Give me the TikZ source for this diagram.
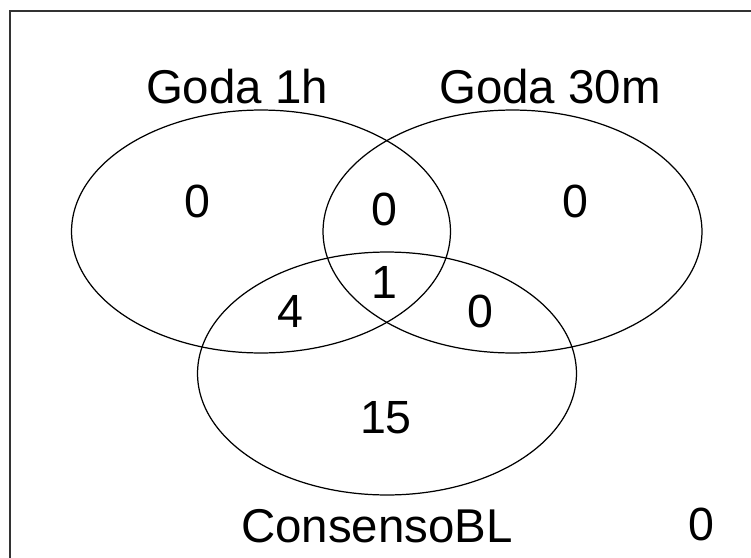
\documentclass[tikz,border=0pt]{standalone}
\usepackage{fontspec}
\setmainfont{Liberation Sans}
\usetikzlibrary{shapes.geometric}

\begin{document}
\begin{tikzpicture}[
    x=0.02cm, y=-0.02cm,
    set/.style={ellipse, draw=black, line width=0.7pt, inner sep=0pt, minimum width=7.58cm, minimum height=4.86cm},
    count/.style={anchor=base, inner sep=0pt, font=\fontsize{26.5}{30}\selectfont},
    setlabel/.style={anchor=base, inner sep=0pt, font=\fontsize{27}{30}\selectfont},
    frame/.style={draw=black!80, line width=1.1pt}
]

% Canvas and plot frame (runs off the right and bottom)
\useasboundingbox (0,0) rectangle (751,558);
\clip (0,0) rectangle (751,558);
\fill[white] (0,0) rectangle (751,558);
\draw[frame] (10,11) rectangle (800,620);

% Sets
\node[set] (goda1h) at (261,231.5) {};
\node[set] (goda30m) at (512.5,231.5) {};
\node[set] (consenso) at (387,373.5) {};

% Set labels
\node[setlabel] (lab1h) at (237,103) {Goda 1h};
\node[setlabel] (lab30m) at (550,103) {Goda 30m};
\node[setlabel] (labcons) at (377,542) {ConsensoBL};

% Region counts
\node[count] (only1h) at (197,217) {0};
\node[count] (only30m) at (575,217) {0};
\node[count] (both) at (384,225) {0};
\node[count] (all) at (384,298) {1};
\node[count] (cons1h) at (290,327) {4};
\node[count] (cons30m) at (480,327) {0};
\node[count] (onlycons) at (386,433) {15};
\node[count] (none) at (701,540) {0};

\end{tikzpicture}
\end{document}
